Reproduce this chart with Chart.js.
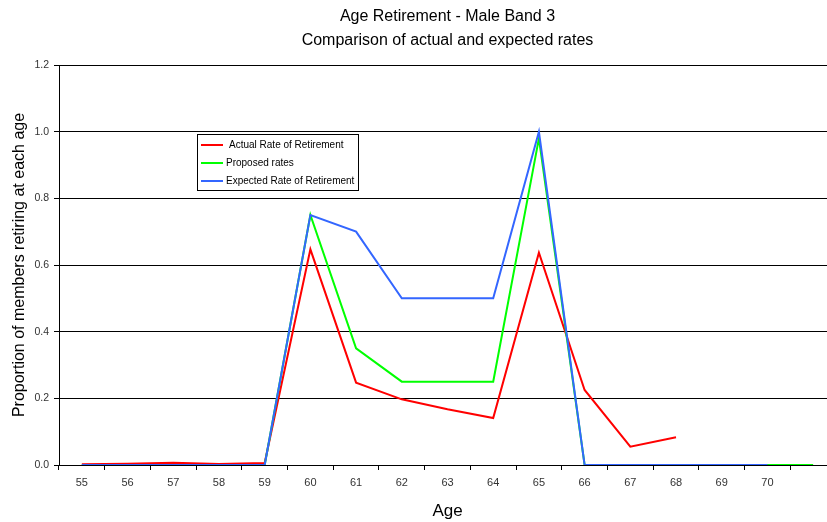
<!DOCTYPE html>
<html>
<head>
<meta charset="utf-8">
<script src="https://cdn.jsdelivr.net/npm/chart.js@4/dist/chart.umd.min.js"></script>
<style>
html,body{margin:0;padding:0;background:#fff;overflow:hidden;}
#wrap{width:827px;height:522px;overflow:hidden;position:relative;}
canvas{display:block;}
</style>
</head>
<body>
<div id="wrap"><canvas id="c" width="836" height="522"></canvas></div>
<script>
const ages = ['55','56','57','58','59','60','61','62','63','64','65','66','67','68','69','70',''];
const actualRate = [0.002,0.004,0.007,0.003,0.006,0.647,0.247,0.197,0.167,0.141,0.637,0.225,0.055,0.083,null,null,null];
const proposedRates = [0,0,0,0,0,0.75,0.35,0.25,0.25,0.25,0.98,0,0,0,0,0,0];
const expectedRate = [0,0,0,0,0,0.75,0.70,0.50,0.50,0.50,1.00,0,0,0,0,0,null];
const yTicks = [0,0.2,0.4,0.6,0.8,1.0,1.2];
const titleLines = ['Age Retirement - Male Band 3','Comparison of actual and expected rates'];

const FONT = '"Liberation Sans",Arial,sans-serif';

const legendBox = {
  id:'legendBox',
  afterDatasetsDraw(chart){
    const ctx = chart.ctx;
    const x0 = 197.5, y0 = 134.5, w = 161, h = 56;
    ctx.save();
    ctx.fillStyle = '#fff';
    ctx.fillRect(x0,y0,w,h);
    ctx.strokeStyle = '#000';
    ctx.lineWidth = 1;
    ctx.strokeRect(x0,y0,w,h);
    ctx.font = '10px ' + FONT;
    ctx.textBaseline = 'middle';
    ctx.textAlign = 'left';
    chart.data.datasets.forEach((ds,i)=>{
      const y = 145 + i*18;
      ctx.strokeStyle = ds.borderColor;
      ctx.lineWidth = 2;
      ctx.beginPath();
      ctx.moveTo(201,y);
      ctx.lineTo(223,y);
      ctx.stroke();
      ctx.fillStyle = '#000';
      ctx.fillText(ds.label, i===0 ? 229 : 226, y);
    });
    ctx.restore();
  }
};

new Chart(document.getElementById('c'), {
  type:'line',
  data:{
    labels:ages,
    datasets:[
      {label:'Actual Rate of Retirement', data:actualRate, borderColor:'#ff0000', order:2},
      {label:'Proposed rates', data:proposedRates, borderColor:'#00ff00', order:1},
      {label:'Expected Rate of Retirement', data:expectedRate, borderColor:'#3366ff', order:0}
    ]
  },
  options:{
    responsive:false,
    animation:false,
    devicePixelRatio:1,
    layout:{padding:{left:0,right:0,top:0,bottom:0}},
    elements:{
      line:{borderWidth:2, tension:0, fill:false},
      point:{radius:0, hoverRadius:0}
    },
    plugins:{
      legend:{display:false},
      tooltip:{enabled:false},
      title:{
        display:true,
        text:titleLines,
        fullSize:false,
        color:'#000',
        font:{family:FONT, size:16, weight:'normal', lineHeight:1.5},
        padding:{top:5,bottom:12}
      }
    },
    scales:{
      x:{
        type:'category',
        offset:true,
        grid:{display:true, drawOnChartArea:false, drawTicks:true, tickLength:5, color:'#000', offset:true},
        border:{display:true, color:'#000', width:1},
        ticks:{color:'#333', font:{family:FONT, size:11}, padding:6, maxRotation:0, autoSkip:false},
        title:{display:true, text:'Age', color:'#000', font:{family:FONT, size:17}, padding:{top:4,bottom:0}},
        afterFit(s){ s.height = 57; }
      },
      y:{
        min:0, max:1.2,
        afterBuildTicks(s){ s.ticks = yTicks.map(v=>({value:v})); },
        grid:{color:'#000', lineWidth:1, tickLength:5, drawTicks:true},
        border:{display:true, color:'#000', width:1},
        ticks:{color:'#333', font:{family:FONT, size:10.5}, padding:5, callback:v=>Number(v).toFixed(1)},
        title:{display:true, text:'Proportion of members retiring at each age', color:'#000', font:{family:FONT, size:16}, padding:{top:10,bottom:0}},
        afterFit(s){ s.width = 59; }
      }
    }
  },
  plugins:[legendBox]
});
</script>
</body>
</html>
